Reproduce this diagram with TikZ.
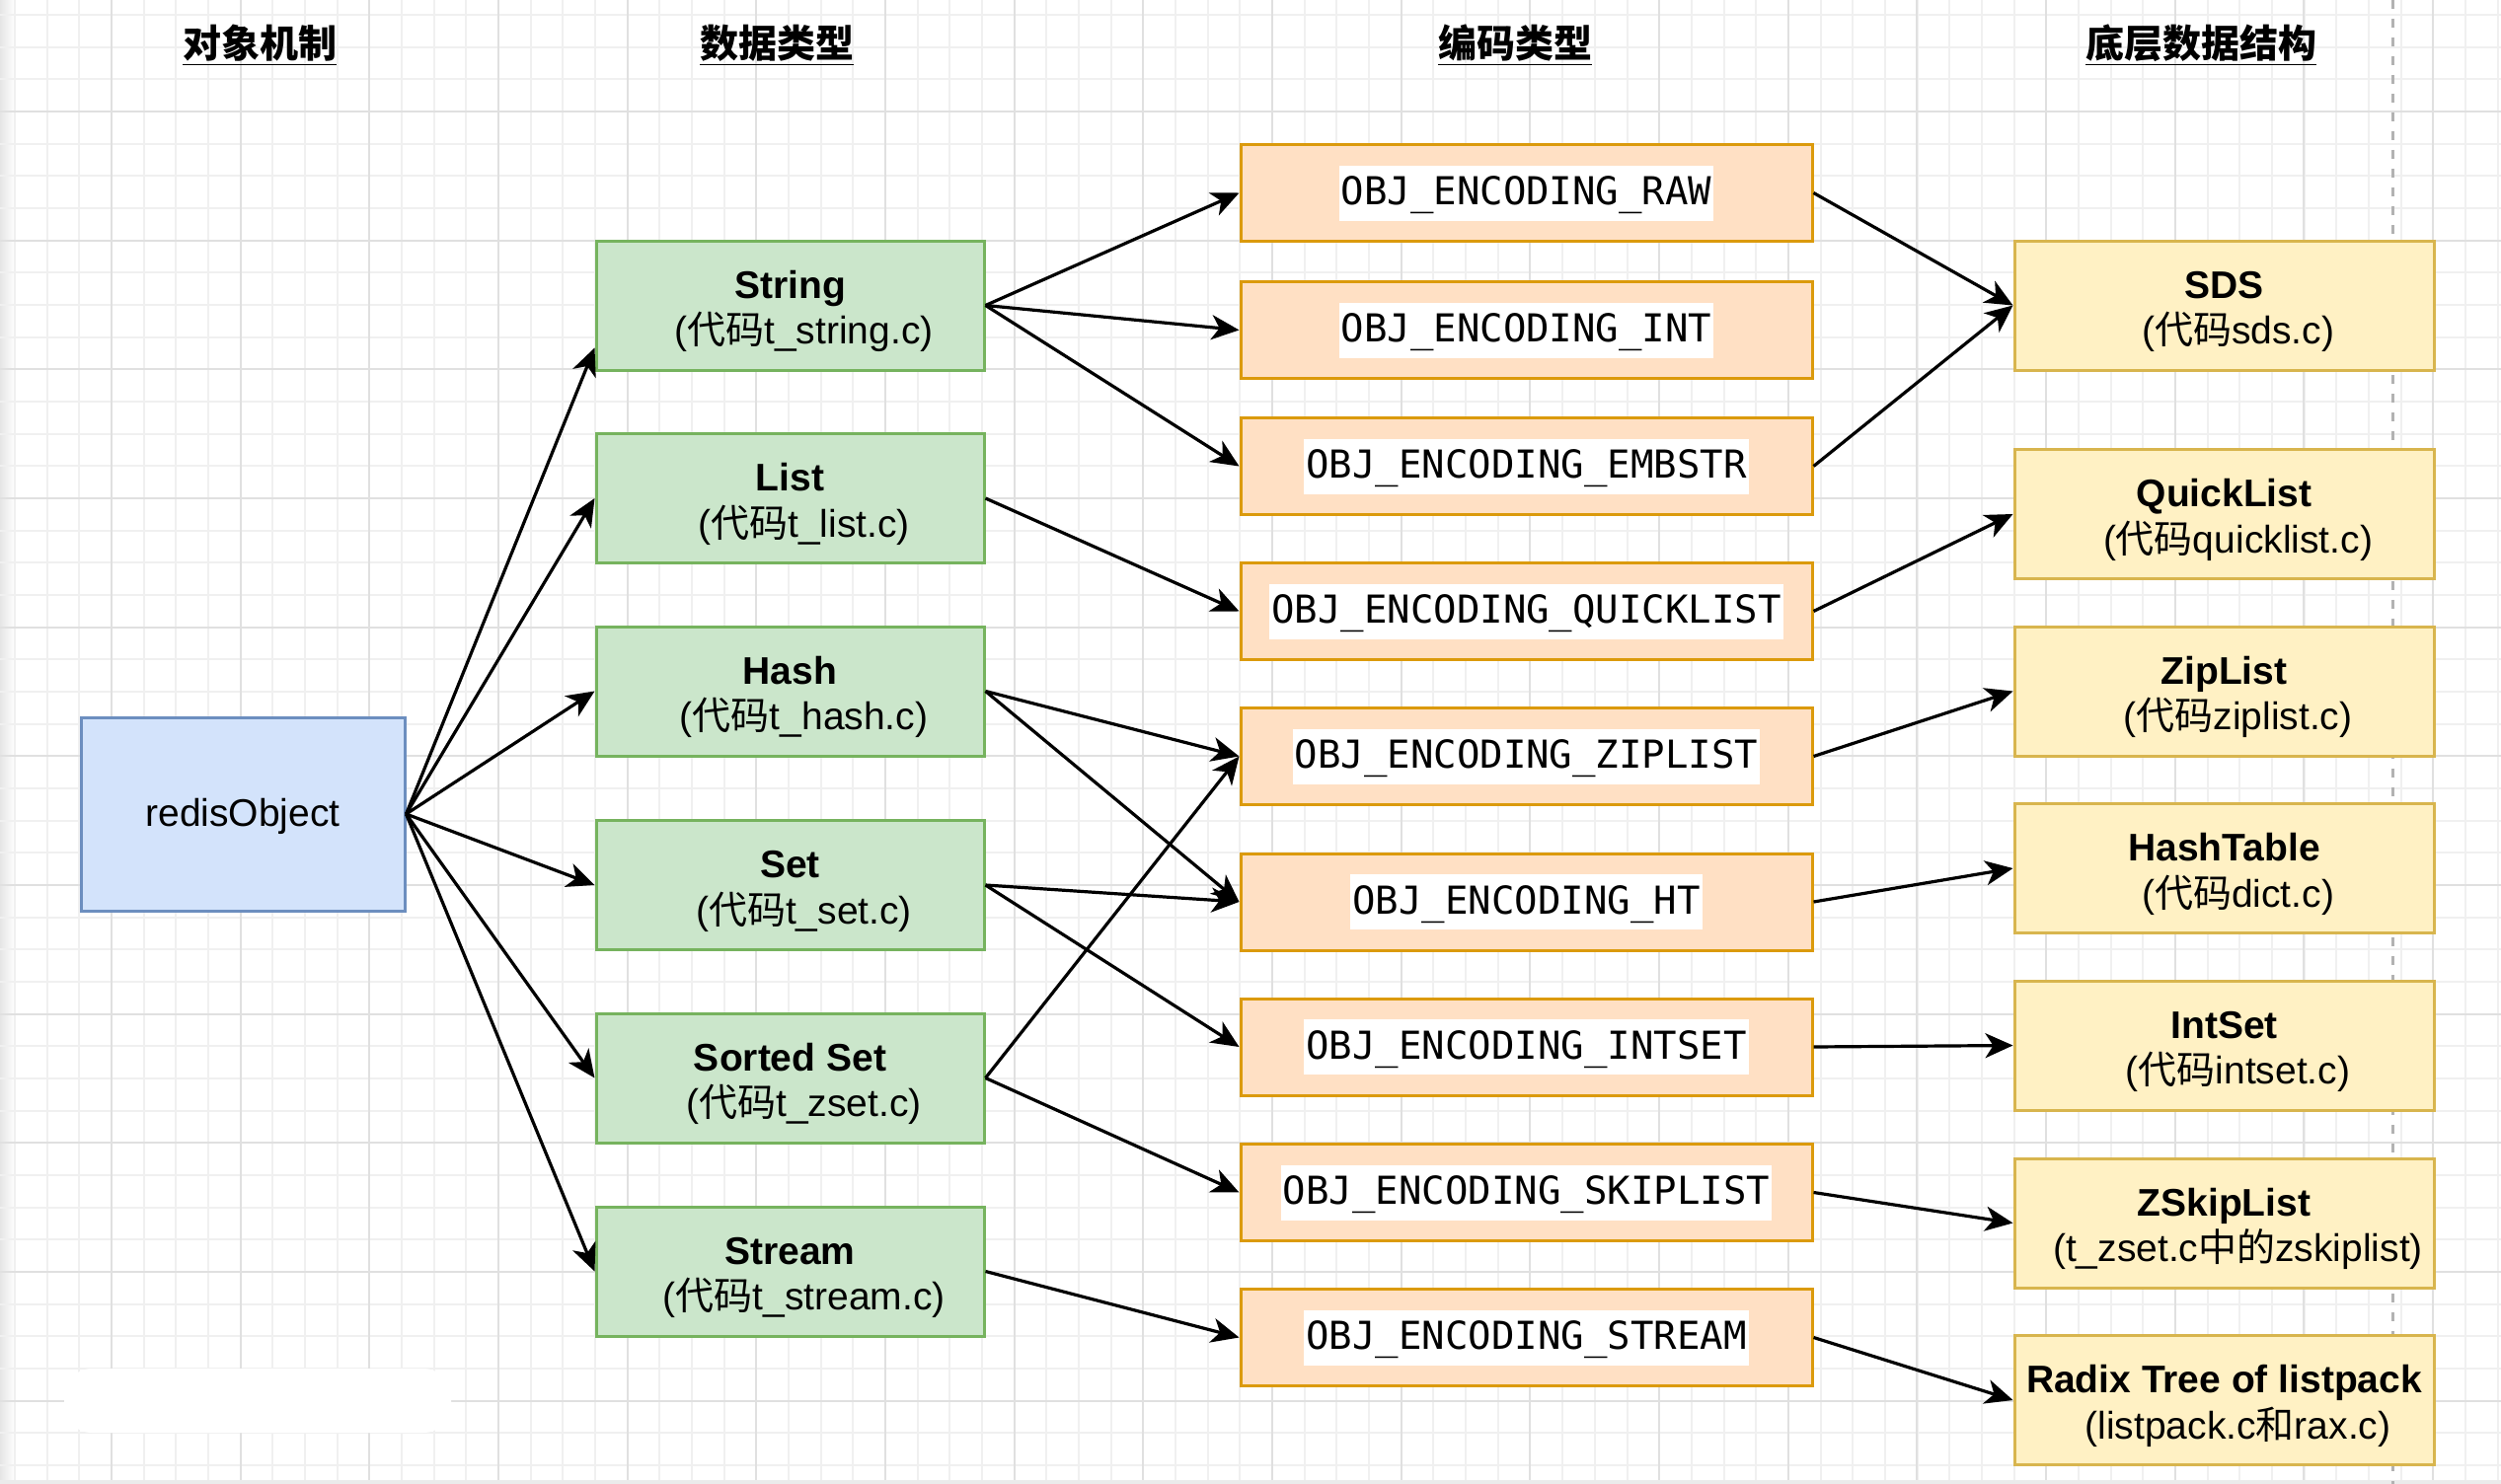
\documentclass[tikz,border=0pt]{standalone}
\usepackage{fontspec}
\setmainfont{Liberation Sans}
\setmonofont{DejaVu Sans Mono}
\newfontfamily\cjk{Noto Sans CJK SC}
\usepackage{xcolor}
\usetikzlibrary{arrows.meta, calc}

\definecolor{objfill}{HTML}{D3E3FB}
\definecolor{objline}{HTML}{6C8EBF}
\definecolor{typefill}{HTML}{CBE6CB}
\definecolor{typeline}{HTML}{76B35E}
\definecolor{encfill}{HTML}{FFE0C4}
\definecolor{encline}{HTML}{DB9A0C}
\definecolor{structfill}{HTML}{FFF1C4}
\definecolor{structline}{HTML}{D8B54E}

% encoding label on a white band
\newcommand{\enc}[1]{{\setlength{\fboxsep}{0pt}\colorbox{white}{\hspace{1pt}\rule[-8pt]{0pt}{28pt}\ttfamily #1\hspace{1pt}}}}
% bold name line and source file line
\newcommand{\tname}[1]{\textbf{\rule{0pt}{20pt}#1}}
\newcommand{\tsrc}[1]{\hspace*{14pt}#1}

\begin{document}
\begin{tikzpicture}[x=0.5pt, y=-0.5pt,
  font=\fontsize{19.5}{23.4}\selectfont,
  objbox/.style={rectangle, draw=objline, fill=objfill, line width=1.5pt,
                 minimum width=164pt, minimum height=98pt, inner sep=2pt, align=center},
  typebox/.style={rectangle, draw=typeline, fill=typefill, line width=1.5pt,
                  minimum width=196.5pt, minimum height=65.5pt, inner sep=2pt, align=center},
  encbox/.style={rectangle, draw=encline, fill=encfill, line width=1.5pt,
                 minimum width=289.5pt, minimum height=49pt, inner sep=2pt},
  structbox/.style={rectangle, draw=structline, fill=structfill, line width=1.5pt,
                    minimum width=212.5pt, minimum height=65.5pt, inner sep=2pt, align=center},
  head/.style={font=\fontsize{19.5}{23.4}\selectfont\cjk\bfseries},
  arr/.style={-{Stealth[length=14pt,width=12.5pt,inset=4pt]}, line width=1.6pt},
  gridminor/.style={draw=black!6, line width=1pt},
  gridmajor/.style={draw=black!12, line width=1pt},
  sepline/.style={draw=black!30, line width=1.5pt, dash pattern=on 4.5pt off 5pt}
]
\useasboundingbox (0,0) rectangle (2534,1504);

% background grid
\fill[white] (0,0) rectangle (2534,1504);
\shade[left color=black!10, right color=white] (0,0) rectangle (15,1504);
\foreach \k in {-3,...,74} \draw[gridminor] ({113+32.67*\k},0) -- ++(0,1504);
\foreach \k in {-3,...,42} \draw[gridminor] (0,{113+32.67*\k}) -- ++(2534,0);
\foreach \k in {0,...,18} \draw[gridmajor] ({113+130.67*\k},0) -- ++(0,1504);
\foreach \k in {0,...,10} \draw[gridmajor] (0,{113+130.67*\k}) -- ++(2534,0);
\fill[black!8] (0,1500) rectangle (2534,1504);
\fill[white, rounded corners=14pt] (65,1387) rectangle (457,1452);

% dashed page break
\coordinate (septop) at (2424,0);
\coordinate (sepbot) at (2424,1504);
\draw[sepline] (septop) -- (sepbot);

% column headings
\node[head] (h1) at (263,46) {\underline{对象机制}};
\node[head] (h2) at (787,46) {\underline{数据类型}};
\node[head] (h3) at (1535,46) {\underline{编码类型}};
\node[head] (h4) at (2230,46) {\underline{底层数据结构}};

% object
\node[objbox] (obj) at (246,825) {\rule{0pt}{17pt}redisObject};

% data types
\node[typebox] (str)  at (800.5,309.5)  {\tname{String}\\\tsrc{({\cjk 代码}t\_string.c)}};
\node[typebox] (lst)  at (800.5,505)    {\tname{List}\\\tsrc{({\cjk 代码}t\_list.c)}};
\node[typebox] (hsh)  at (800.5,700.5)  {\tname{Hash}\\\tsrc{({\cjk 代码}t\_hash.c)}};
\node[typebox] (set)  at (800.5,897)    {\tname{Set}\\\tsrc{({\cjk 代码}t\_set.c)}};
\node[typebox] (zset) at (800.5,1092.5) {\tname{Sorted Set}\\\tsrc{({\cjk 代码}t\_zset.c)}};
\node[typebox] (strm) at (800.5,1288.5) {\tname{Stream}\\\tsrc{({\cjk 代码}t\_stream.c)}};

% encodings
\node[encbox] (raw)   at (1546.5,195.5)  {\enc{OBJ\_ENCODING\_RAW}};
\node[encbox] (int)   at (1546.5,334.5)  {\enc{OBJ\_ENCODING\_INT}};
\node[encbox] (emb)   at (1546.5,472.5)  {\enc{OBJ\_ENCODING\_EMBSTR}};
\node[encbox] (qlst)  at (1546.5,619.5)  {\enc{OBJ\_ENCODING\_QUICKLIST}};
\node[encbox] (zip)   at (1546.5,766.5)  {\enc{OBJ\_ENCODING\_ZIPLIST}};
\node[encbox] (ht)    at (1546.5,914)    {\enc{OBJ\_ENCODING\_HT}};
\node[encbox] (iset)  at (1546.5,1061)   {\enc{OBJ\_ENCODING\_INTSET}};
\node[encbox] (skip)  at (1546.5,1208.5) {\enc{OBJ\_ENCODING\_SKIPLIST}};
\node[encbox] (estrm) at (1546.5,1355.5) {\enc{OBJ\_ENCODING\_STREAM}};

% underlying structures
\node[structbox] (sds)    at (2253.5,309.5)  {\tname{SDS}\\\tsrc{({\cjk 代码}sds.c)}};
\node[structbox] (quick)  at (2253.5,521)    {\tname{QuickList}\\\tsrc{({\cjk 代码}quicklist.c)}};
\node[structbox] (ziplst) at (2253.5,700.5)  {\tname{ZipList}\\\tsrc{({\cjk 代码}ziplist.c)}};
\node[structbox] (dict)   at (2253.5,880)    {\tname{HashTable}\\\tsrc{({\cjk 代码}dict.c)}};
\node[structbox] (intset) at (2253.5,1059.5) {\tname{IntSet}\\\tsrc{({\cjk 代码}intset.c)}};
\node[structbox] (zskip)  at (2253.5,1239.5) {\tname{ZSkipList}\\\tsrc{(t\_zset.c{\cjk 中的}zskiplist)}};
\node[structbox] (rax)    at (2253.5,1419)   {\tname{Radix Tree of listpack}\\\tsrc{(listpack.c{\cjk 和}rax.c)}};

% object -> types
\draw[arr] (obj.east) -- ([yshift=-21.5pt]str.west);
\draw[arr] (obj.east) -- (lst.west);
\draw[arr] (obj.east) -- (hsh.west);
\draw[arr] (obj.east) -- (set.west);
\draw[arr] (obj.east) -- (zset.west);
\draw[arr] (obj.east) -- (strm.west);

% types -> encodings
\draw[arr] (str.east)  -- (raw.west);
\draw[arr] (str.east)  -- (int.west);
\draw[arr] (str.east)  -- (emb.west);
\draw[arr] (lst.east)  -- (qlst.west);
\draw[arr] (hsh.east)  -- (zip.west);
\draw[arr] (hsh.east)  -- (ht.west);
\draw[arr] (set.east)  -- (ht.west);
\draw[arr] (set.east)  -- (iset.west);
\draw[arr] (zset.east) -- (zip.west);
\draw[arr] (zset.east) -- (skip.west);
\draw[arr] (strm.east) -- (estrm.west);

% encodings -> structures
\draw[arr] (raw.east)   -- (sds.west);
\draw[arr] (emb.east)   -- (sds.west);
\draw[arr] (qlst.east)  -- (quick.west);
\draw[arr] (zip.east)   -- (ziplst.west);
\draw[arr] (ht.east)    -- (dict.west);
\draw[arr] (iset.east)  -- (intset.west);
\draw[arr] (skip.east)  -- (zskip.west);
\draw[arr] (estrm.east) -- (rax.west);

\end{tikzpicture}
\end{document}
